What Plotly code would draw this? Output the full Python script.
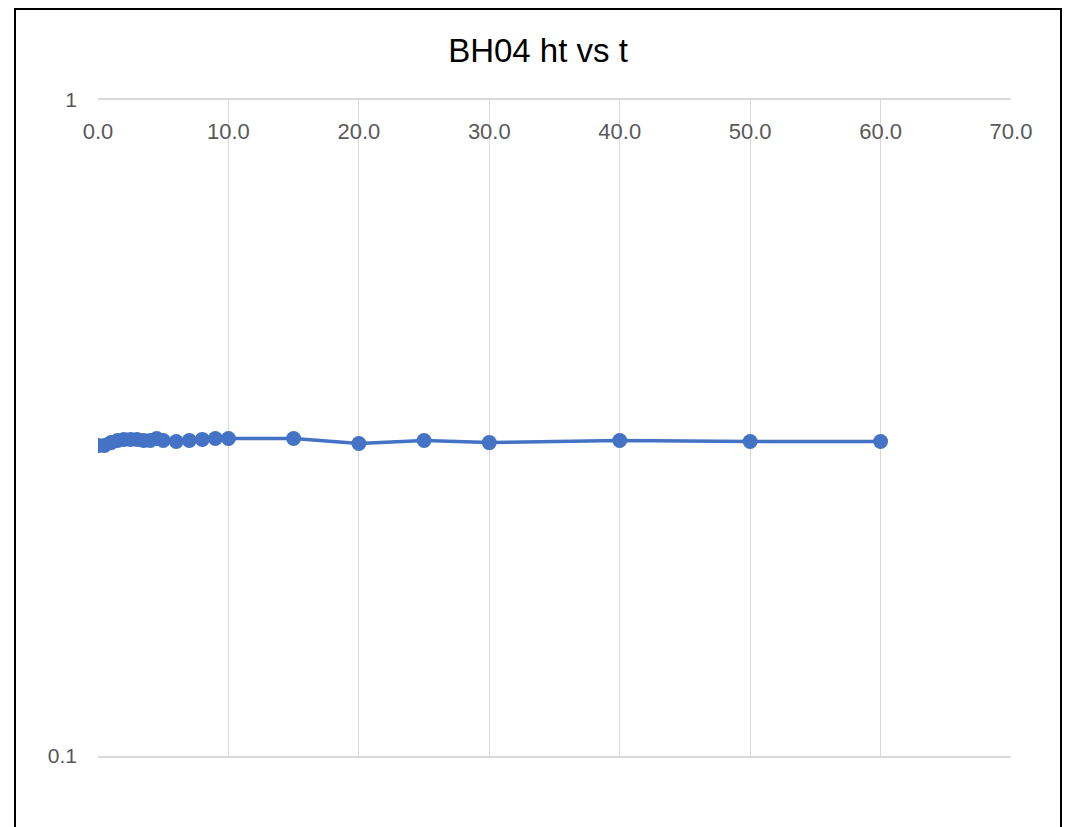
import plotly.graph_objects as go

t_values = [0, 0.5, 1, 1.5, 2, 2.5, 3, 3.5, 4, 4.5, 5, 6, 7, 8, 9, 10, 15, 20, 25, 30, 40, 50, 60]
ht_values = [0.2973, 0.2975, 0.3004, 0.3027, 0.3038, 0.3038, 0.3038, 0.3027, 0.3027, 0.3048, 0.3027,
             0.3016, 0.3027, 0.3038, 0.3048, 0.3048, 0.3048, 0.2995, 0.3027, 0.3004, 0.3027, 0.3016, 0.3016]
x_ticks = [0, 10, 20, 30, 40, 50, 60, 70]
x_tick_labels = ["0.0", "10.0", "20.0", "30.0", "40.0", "50.0", "60.0", "70.0"]
y_ticks = [0.1, 1]
y_tick_labels = ["0.1", "1"]

color = "#4472C4"
grid = "#D9D9D9"
font = "Liberation Sans, Open Sans, sans-serif"

# page body has an 8px margin; plot area in page coords: x 98..1011, y 100..756
L, R, T, B = 90, 68, 92, 79
W, H = 1071, 827
pw, ph = W - L - R, H - T - B

fig = go.Figure()
fig.add_trace(go.Scatter(
    x=t_values, y=ht_values, mode="lines+markers",
    line=dict(color=color, width=3.5),
    marker=dict(color=color, size=15),
    showlegend=False,
))

fig.update_layout(
    width=W, height=H,
    margin=dict(l=L, r=R, t=T, b=B),
    paper_bgcolor="white", plot_bgcolor="white",
    title=dict(text="BH04 ht vs t", x=(538 - 8) / W, xanchor="center", y=1 - (50 - 8) / H, yanchor="middle",
               font=dict(family=font, size=33, color="#000000")),
    xaxis=dict(
        range=[0, 70], side="top", tickvals=x_ticks, ticktext=x_tick_labels,
        ticklabelposition="inside", ticklabeloverflow="allow", ticks="", ticklabelstandoff=25,
        showgrid=True, gridcolor=grid, gridwidth=1,
        showline=True, mirror=True, linecolor=grid, linewidth=1.5,
        zeroline=False, tickfont=dict(family=font, size=22, color="#595959"),
    ),
    yaxis=dict(
        type="log", range=[-1.0002, 0.0002], tickvals=y_ticks, ticktext=y_tick_labels,
        ticklabeloverflow="allow",
        showgrid=False, showline=False, zeroline=False, ticks="",
        ticklabelstandoff=20,
        tickfont=dict(family=font, size=21, color="#595959"),
    ),
    shapes=[dict(type="rect", xref="paper", yref="paper",
                 x0=(15 - 98) / pw, x1=(1061 - 98) / pw,
                 y0=-(840 - 756) / ph, y1=1 + (100 - 9) / ph,
                 line=dict(color="black", width=2), fillcolor="rgba(0,0,0,0)", layer="below")],
)

fig.write_html("out.html")
